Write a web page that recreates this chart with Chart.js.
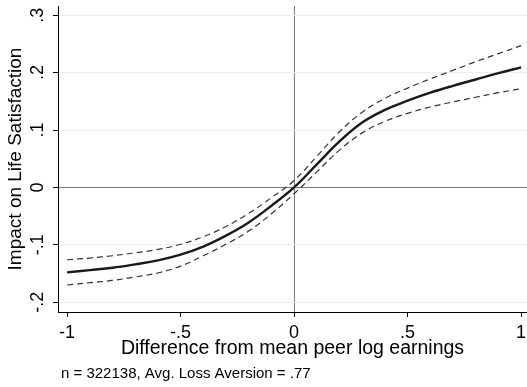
<!DOCTYPE html>
<html>
<head>
<meta charset="utf-8">
<script src="https://cdn.jsdelivr.net/npm/chart.js@4"></script>
<style>
  body { margin: 0; background: #fff; }
</style>
</head>
<body>
<canvas id="chart" width="527" height="387"></canvas>
<script>
// peer earnings gap (x) and estimated effect with 95% band
const xVals   = [-1, -0.9, -0.8, -0.7, -0.6, -0.5, -0.4, -0.3, -0.2, -0.1, 0, 0.1, 0.2, 0.3, 0.4, 0.5, 0.6, 0.7, 0.8, 0.9, 1];
const fitted  = [-0.148, -0.144, -0.140, -0.134, -0.127, -0.117, -0.103, -0.084, -0.061, -0.032, 0.000, 0.040, 0.080, 0.113, 0.135, 0.151, 0.165, 0.177, 0.188, 0.199, 0.209];
const upperCI = [-0.126, -0.123, -0.119, -0.114, -0.108, -0.099, -0.086, -0.068, -0.045, -0.018, 0.012, 0.054, 0.097, 0.131, 0.155, 0.173, 0.189, 0.204, 0.219, 0.233, 0.247];
const lowerCI = [-0.170, -0.166, -0.162, -0.156, -0.149, -0.137, -0.119, -0.099, -0.076, -0.046, -0.011, 0.027, 0.065, 0.095, 0.115, 0.129, 0.140, 0.149, 0.157, 0.165, 0.172];

const xTickVals = [-1, -0.5, 0, 0.5, 1];
const xTickLabels = ['-1', '-.5', '0', '.5', '1'];
const yTickVals = [-0.2, -0.1, 0, 0.1, 0.2, 0.3];
const yTickLabels = ['-.2', '-.1', '0', '.1', '.2', '.3'];

const xTitle = 'Difference from mean peer log earnings';
const yTitle = 'Impact on Life Satisfaction';
const note = 'n = 322138, Avg. Loss Aversion = .77';

const FONT = "'Liberation Sans', Arial, sans-serif";

function pts(ys) {
  return xVals.map((x, i) => ({ x: x, y: ys[i] }));
}

const notePlugin = {
  id: 'note',
  beforeDraw(chart) {
    const ctx = chart.ctx;
    ctx.save();
    ctx.fillStyle = '#fff';
    ctx.fillRect(0, 0, chart.width, chart.height);
    ctx.restore();
  },
  afterDraw(chart) {
    const ctx = chart.ctx;
    ctx.save();
    ctx.font = '15px ' + FONT;
    ctx.fillStyle = '#000';
    ctx.textBaseline = 'alphabetic';
    ctx.fillText(note, 61, 378);
    ctx.restore();
  }
};

const ctx = document.getElementById('chart').getContext('2d');
new Chart(ctx, {
  type: 'line',
  data: {
    datasets: [
      { data: pts(upperCI), borderColor: '#333', borderWidth: 1.2, borderDash: [6, 4], pointRadius: 0, tension: 0.4 },
      { data: pts(fitted), borderColor: '#1a1a1a', borderWidth: 2.4, pointRadius: 0, tension: 0.4 },
      { data: pts(lowerCI), borderColor: '#333', borderWidth: 1.2, borderDash: [6, 4], pointRadius: 0, tension: 0.4 }
    ]
  },
  options: {
    responsive: false,
    animation: false,
    layout: { padding: { top: 6, right: 0, left: 0, bottom: 0 } },
    plugins: { legend: { display: false }, tooltip: { enabled: false } },
    scales: {
      x: {
        type: 'linear',
        min: -1.04,
        max: 1.026,
        afterBuildTicks: s => { s.ticks = xTickVals.map(v => ({ value: v })); },
        afterFit: s => { s.height = 75; s.paddingLeft = 0; s.paddingRight = 0; },
        border: { display: true, color: '#000', width: 1 },
        grid: {
          color: c => (c.tick && c.tick.value === 0 ? '#7a7a7a' : 'rgba(0,0,0,0)'),
          tickColor: '#000',
          tickLength: 5
        },
        ticks: {
          color: '#000',
          font: { family: FONT, size: 18 },
          padding: 5,
          maxRotation: 0,
          callback: (v, i) => xTickLabels[i]
        },
        title: {
          display: true,
          text: xTitle,
          color: '#000',
          font: { family: FONT, size: 19.5 },
          padding: { top: 0, bottom: 27 }
        }
      },
      y: {
        min: -0.217,
        max: 0.316,
        afterBuildTicks: s => { s.ticks = yTickVals.map(v => ({ value: v })); },
        afterFit: s => { s.width = 58; s.paddingTop = 0; s.paddingBottom = 0; },
        border: { display: true, color: '#000', width: 1 },
        grid: {
          color: c => (c.tick && c.tick.value === 0 ? '#7a7a7a' : '#e6eff1'),
          tickColor: '#000',
          tickLength: 5
        },
        ticks: {
          color: '#000',
          font: { family: FONT, size: 18 },
          padding: 4,
          minRotation: 90,
          maxRotation: 90,
          crossAlign: 'center',
          callback: (v, i) => yTickLabels[i]
        },
        title: {
          display: true,
          text: yTitle,
          color: '#000',
          font: { family: FONT, size: 19 },
          padding: { top: 4, bottom: 0 }
        }
      }
    }
  },
  plugins: [notePlugin]
});
</script>
</body>
</html>
